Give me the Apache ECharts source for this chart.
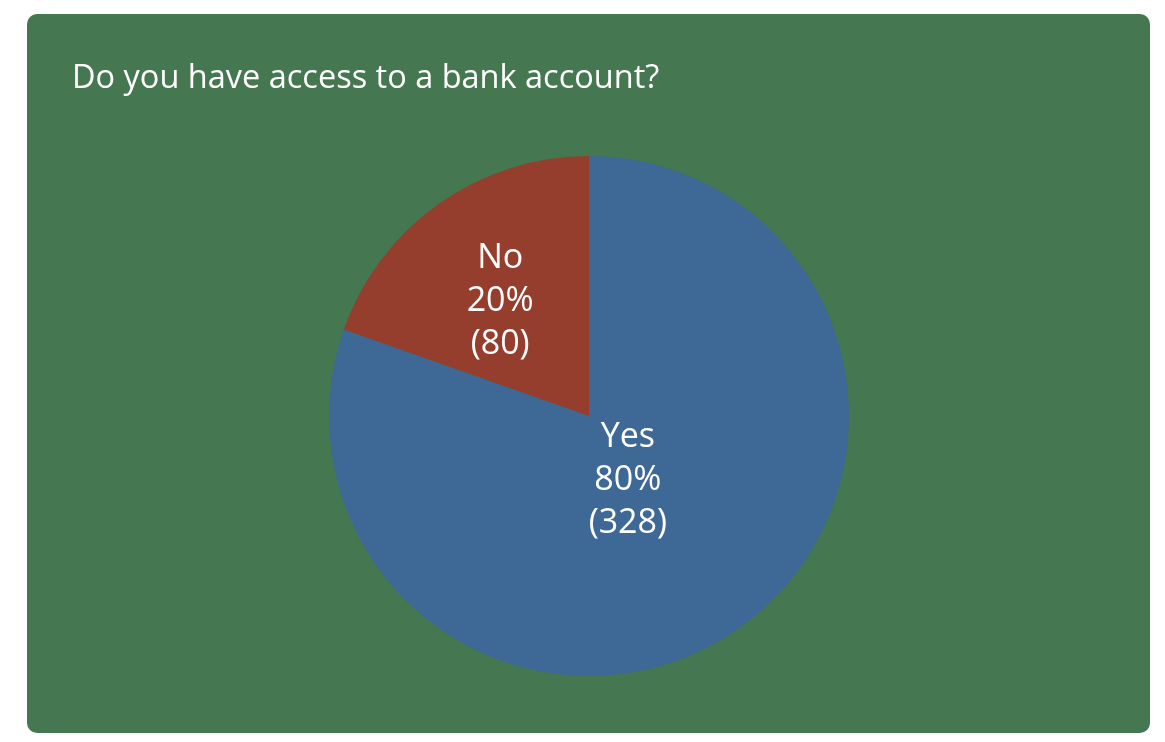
<!DOCTYPE html>
<html>
<head>
<meta charset="utf-8">
<style>
  html, body { margin: 0; padding: 0; background: #ffffff; }
  #chart { width: 1165px; height: 742px; }
</style>
<script src="https://cdn.jsdelivr.net/npm/echarts@6/dist/echarts.min.js"></script>
</head>
<body>
<div id="chart"></div>
<script>
// Survey answers and respondent counts
const answers = ['Yes', 'No'];
const counts = [328, 80];
const sliceColors = ['#3e6896', '#953e2e'];
// Horizontal nudge (right padding) and an empty trailing line height
// that lifts each inside label toward the pie centre
const labelPadRight = [76, 24];
const labelSpacer = [88, 12];

const chart = echarts.init(document.getElementById('chart'), null, { renderer: 'canvas' });

chart.setOption({
  backgroundColor: '#ffffff',
  animation: false,
  graphic: [{
    type: 'rect',
    shape: { x: 27, y: 14, width: 1123, height: 719, r: 10 },
    style: { fill: '#457850' },
    z: -10
  }],
  title: {
    text: 'Do you have access to a bank account?',
    left: 72,
    top: 62,
    padding: 0,
    textStyle: {
      color: '#ffffff',
      fontFamily: 'Open Sans',
      fontWeight: 'normal',
      fontSize: 32.5
    }
  },
  series: [{
    type: 'pie',
    center: [589, 416],
    radius: [0, 260],
    startAngle: 90,
    clockwise: true,
    percentPrecision: 0,
    silent: true,
    itemStyle: { borderWidth: 0 },
    label: {
      show: true,
      position: 'inside',
      color: '#ffffff',
      fontFamily: 'Open Sans',
      fontSize: 34,
      lineHeight: 43
    },
    labelLine: { show: false },
    data: answers.map((name, i) => ({
      name: name,
      value: counts[i],
      itemStyle: { color: sliceColors[i] },
      label: {
        formatter: '{t|{b}}\n{t|{d}%}\n{t|({c})}\n{s|}',
        padding: [0, labelPadRight[i], 0, 0],
        rich: {
          t: { color: '#ffffff', fontFamily: 'Open Sans', fontSize: 34, lineHeight: 43 },
          s: { height: labelSpacer[i], lineHeight: labelSpacer[i], fontSize: 1 }
        }
      }
    }))
  }]
});
</script>
</body>
</html>
